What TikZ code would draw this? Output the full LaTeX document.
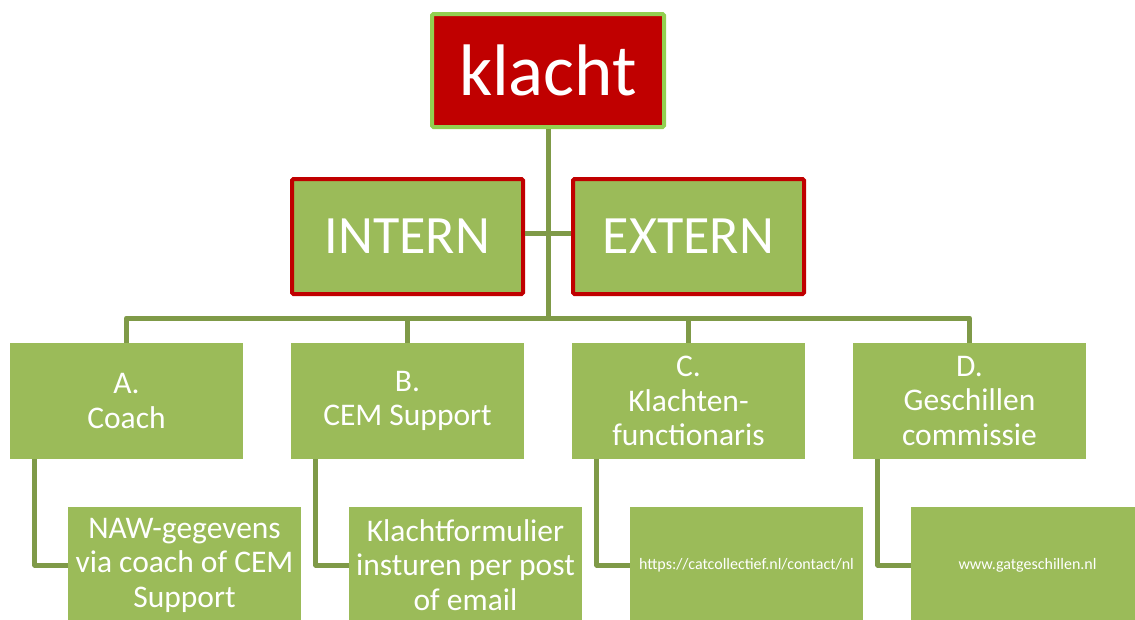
\documentclass[tikz,border=0pt]{standalone}
\usepackage{fontspec}
\setmainfont{Carlito}
\definecolor{boxgreen}{HTML}{9BBB59}
\definecolor{lightgreen}{HTML}{92D050}
\definecolor{darkred}{HTML}{C00000}
\definecolor{linkgreen}{HTML}{7F9A48}
\tikzset{
  topbox/.style={draw=lightgreen, fill=darkred, line width=4pt, rounded corners=1.5pt,
    minimum width=232pt, minimum height=113pt, text=white, inner sep=0pt,
    font=\fontsize{73}{78}\selectfont},
  sidebox/.style={draw=darkred, fill=boxgreen, line width=4pt, rounded corners=1.5pt,
    minimum width=231pt, minimum height=115pt, text=white, inner sep=0pt,
    font=\fontsize{54}{58}\selectfont},
  levelbox/.style={fill=boxgreen, minimum width=233pt, minimum height=116pt,
    text=white, inner sep=0pt, align=center, font=\fontsize{31.5}{34.5}\selectfont},
  subbox/.style={fill=boxgreen, minimum width=233pt, minimum height=116pt,
    text=white, inner sep=0pt, align=center, font=\fontsize{31.5}{34.5}\selectfont},
  smalltext/.style={font=\fontsize{16}{19}\selectfont},
  link/.style={draw=linkgreen, line width=5pt, line join=round},
}
\begin{document}
\begin{tikzpicture}[x=1pt, y=-1pt]
  \useasboundingbox (0,0) rectangle (1135,619);
  \clip (0,0) rectangle (1135,619);

  % the bus line that feeds the four level boxes
  \coordinate (bus) at (548,318);

  % boxes
  \node[topbox] (klacht) at (548,70.5) {klacht};
  \node[sidebox] (intern) at (407.5,236.5) {INTERN};
  \node[sidebox] (extern) at (688.5,236.5) {EXTERN};

  \node[levelbox] (A) at (126.5,401) {A.\\Coach};
  \node[levelbox] (B) at (407.5,401) {B.\\CEM Support};
  \node[levelbox] (C) at (688.5,401) {C.\\Klachten-\\functionaris};
  \node[levelbox] (D) at (969.5,401) {D.\\Geschillen\\commissie};

  \node[subbox] (As) at (184.5,565) {NAW-gegevens\\via coach of CEM\\Support};
  \node[subbox] (Bs) at (465.5,565) {Klachtformulier\\insturen per post\\of email};
  \node[subbox, smalltext] (Cs) at (746.5,565) {https://catcollectief.nl/contact/nl};
  \node[subbox, smalltext] (Ds) at (1027.5,565) {www.gatgeschillen.nl};

  % trunk and the link between INTERN and EXTERN
  \draw[link] (klacht.south) -- (bus);
  \draw[link] ([yshift=3.5pt]intern.east) -- ([yshift=3.5pt]extern.west);

  % bus to the four level boxes
  \draw[link] (bus) -| (A.north);
  \draw[link] (bus) -| (B.north);
  \draw[link] (bus) -| (C.north);
  \draw[link] (bus) -| (D.north);

  % level boxes to their detail boxes
  \draw[link] ([xshift=25pt]A.south west) |- (As.west);
  \draw[link] ([xshift=25pt]B.south west) |- (Bs.west);
  \draw[link] ([xshift=25pt]C.south west) |- (Cs.west);
  \draw[link] ([xshift=25pt]D.south west) |- (Ds.west);
\end{tikzpicture}
\end{document}
